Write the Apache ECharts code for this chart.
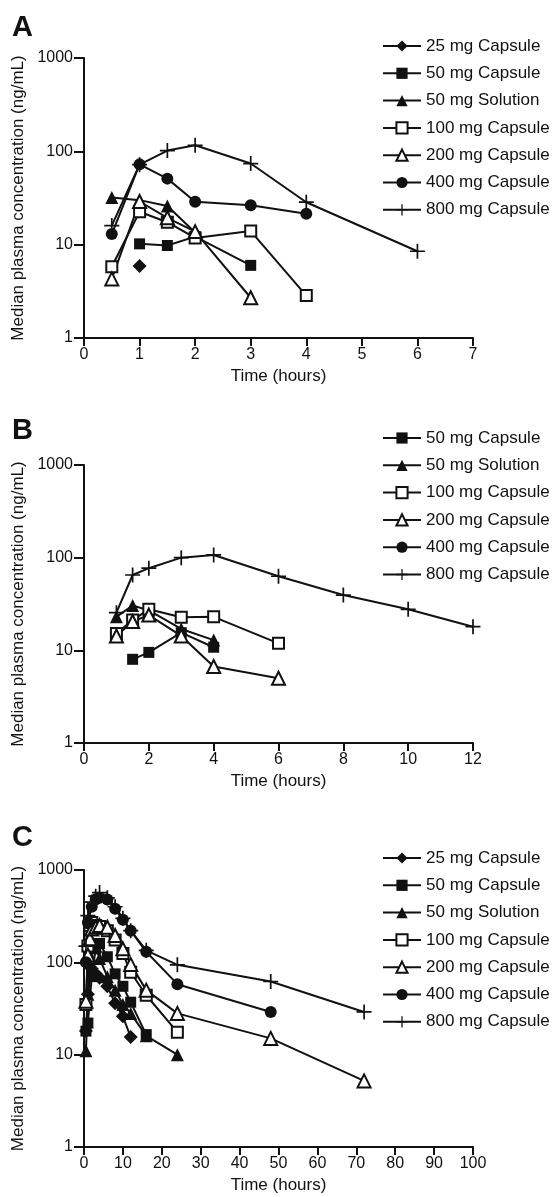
<!DOCTYPE html>
<html>
<head>
<meta charset="utf-8">
<script src="https://cdn.jsdelivr.net/npm/echarts@6/dist/echarts.min.js"></script>
<style>
  html, body { margin: 0; padding: 0; background: #fff; }
  #main { width: 559px; height: 1197px; }
</style>
</head>
<body>
<div id="main"></div>
<script>
// dose groups
var doses = ['25 mg Capsule', '50 mg Capsule', '50 mg Solution', '100 mg Capsule',
             '200 mg Capsule', '400 mg Capsule', '800 mg Capsule'];

// panel A, [time h, median conc ng/mL]
var a25mgCap = [[1, 5.9]];
var a50mgCap = [[1, 10.2], [1.5, 9.8], [2, 12.2], [3, 6]];
var a50mgSol = [[0.5, 32], [1, 30], [1.5, 26], [2, 13.5]];
var a100mgCap = [[0.5, 5.8], [1, 22.5], [1.5, 17.4], [2, 11.8], [3, 14], [4, 2.85]];
var a200mgCap = [[0.5, 4.3], [1, 29], [1.5, 19.4], [2, 13.8], [3, 2.7]];
var a400mgCap = [[0.5, 13], [1, 72.5], [1.5, 51], [2, 28.8], [3, 26.5], [4, 21.5]];
var a800mgCap = [[0.5, 16], [1, 72], [1.5, 102], [2, 116], [3, 74], [4, 28.5], [6, 8.5]];

// panel B
var b50mgCap = [[1.5, 8], [2, 9.5], [3, 15.5], [4, 10.8]];
var b50mgSol = [[1, 23], [1.5, 30.5], [2, 27], [3, 17], [4, 12.9]];
var b100mgCap = [[1, 15.2], [1.5, 21.2], [2, 27.7], [3, 22.7], [4, 23], [6, 11.9]];
var b200mgCap = [[1, 14.3], [1.5, 20.5], [2, 24], [3, 14.3], [4, 6.7], [6, 5]];
var b400mgCap = [];
var b800mgCap = [[1, 25.5], [1.5, 65], [2, 77], [3, 100], [4, 107], [6, 63], [8, 39.5], [10, 27.7], [12, 18]];

// panel C
var c25mgCap = [[0.5, 18], [1, 45], [2, 85], [3, 75], [4, 68], [6, 55], [8, 36], [10, 26], [12, 15.5]];
var c50mgCap = [[0.5, 18], [1, 22], [2, 70], [3, 140], [4, 160], [6, 115], [8, 75], [10, 55], [12, 37], [16, 16.5]];
var c50mgSol = [[0.5, 11], [1, 45], [1.5, 120], [2, 170], [3, 150], [4, 110], [6, 70], [8, 50], [10, 35], [12, 28], [16, 16], [24, 10]];
var c100mgCap = [[0.5, 35], [1, 150], [1.5, 250], [2, 270], [3, 250], [4, 245], [6, 220], [8, 175], [10, 125], [12, 78], [16, 44], [24, 17.5]];
var c200mgCap = [[0.5, 38], [1, 120], [1.5, 180], [2, 230], [3, 240], [4, 250], [6, 240], [8, 195], [10, 140], [12, 95], [16, 50], [24, 28], [48, 15], [72, 5.2]];
var c400mgCap = [[0.5, 100], [1, 270], [2, 400], [3, 480], [4, 500], [6, 480], [8, 380], [10, 290], [12, 220], [16, 130], [24, 58], [48, 29]];
var c800mgCap = [[0.5, 150], [1, 320], [2, 450], [3, 520], [4, 570], [6, 500], [8, 400], [10, 300], [12, 220], [16, 135], [24, 94], [48, 62], [72, 29]];

var xMax = [7, 12, 100];
var xStep = [1, 2, 10];

var INK = '#111';
var FONT = '"Liberation Sans", Arial, Helvetica, sans-serif';
var PLUS = 'path://M6.2,0h1.6v6.2h6.2v1.6h-6.2v6.2h-1.6v-6.2h-6.2v-1.6h6.2z';

var look = {
  '25 mg Capsule':  { symbol: 'diamond', size: 14, fill: INK },
  '50 mg Capsule':  { symbol: 'rect', size: 11, fill: INK },
  '50 mg Solution': { symbol: 'triangle', size: 13, fill: INK },
  '100 mg Capsule': { symbol: 'rect', size: 11, fill: '#fff' },
  '200 mg Capsule': { symbol: 'triangle', size: 13, fill: '#fff' },
  '400 mg Capsule': { symbol: 'circle', size: 12, fill: INK },
  '800 mg Capsule': { symbol: PLUS, size: 15, fill: INK }
};

function line(name, data, idx) {
  var s = look[name];
  return {
    name: name,
    type: 'line',
    xAxisIndex: idx,
    yAxisIndex: idx,
    data: data,
    symbol: s.symbol,
    symbolSize: s.size,
    showAllSymbol: true,
    animation: false,
    lineStyle: { color: INK, width: 2 },
    itemStyle: { color: s.fill, borderColor: INK, borderWidth: s.fill === INK ? 0 : 2 }
  };
}

var gridTops = [58, 465, 870];
var legendTops = [37.5, 429.5, 849.5];
var letters = ['A', 'B', 'C'];
var letterTops = [13, 416, 823];

var panels = [
  [['25 mg Capsule', a25mgCap], ['50 mg Capsule', a50mgCap], ['50 mg Solution', a50mgSol],
   ['100 mg Capsule', a100mgCap], ['200 mg Capsule', a200mgCap], ['400 mg Capsule', a400mgCap],
   ['800 mg Capsule', a800mgCap]],
  [['50 mg Capsule', b50mgCap], ['50 mg Solution', b50mgSol], ['100 mg Capsule', b100mgCap],
   ['200 mg Capsule', b200mgCap], ['400 mg Capsule', b400mgCap], ['800 mg Capsule', b800mgCap]],
  [['25 mg Capsule', c25mgCap], ['50 mg Capsule', c50mgCap], ['50 mg Solution', c50mgSol],
   ['100 mg Capsule', c100mgCap], ['200 mg Capsule', c200mgCap], ['400 mg Capsule', c400mgCap],
   ['800 mg Capsule', c800mgCap]]
];

var axisLine = { show: true, onZero: false, lineStyle: { color: INK, width: 2 } };
var xTick = { show: true, inside: false, length: 8, lineStyle: { color: INK, width: 2 } };
var yTick = { show: true, inside: false, length: 10, lineStyle: { color: INK, width: 2 } };

var grid = [], xAxis = [], yAxis = [], legend = [], title = [], series = [];

panels.forEach(function (p, i) {
  grid.push({ left: 84, width: 389, top: gridTops[i], height: 280 - (i === 2 ? 3 : i === 1 ? 2 : 0) });
  xAxis.push({
    type: 'value', gridIndex: i, min: 0, max: xMax[i], interval: xStep[i],
    name: 'Time (hours)', nameLocation: 'middle', nameGap: 30,
    nameTextStyle: { fontFamily: FONT, fontSize: 17, color: INK },
    axisLine: axisLine, axisTick: xTick, splitLine: { show: false },
    axisLabel: { fontFamily: FONT, fontSize: 16, color: INK, margin: 9 }
  });
  yAxis.push({
    type: 'log', logBase: 10, gridIndex: i, min: 1, max: 1000,
    name: 'Median plasma concentration (ng/mL)', nameLocation: 'middle', nameGap: 57,
    nameTextStyle: { fontFamily: FONT, fontSize: 17, color: INK },
    axisLine: axisLine, axisTick: yTick, splitLine: { show: false },
    minorTick: { show: false },
    axisLabel: {
      fontFamily: FONT, fontSize: 16, color: INK, margin: 11,
      formatter: function (v) { return String(Math.round(v)); }
    }
  });
  legend.push({
    orient: 'vertical', left: 382, top: legendTops[i], padding: 0,
    data: p.map(function (d) { return d[0]; }),
    itemWidth: 38, itemHeight: 14, itemGap: 10.3,
    selectedMode: false,
    textStyle: { fontFamily: FONT, fontSize: 17, lineHeight: 17, color: INK }
  });
  title.push({
    text: letters[i], left: 12, top: letterTops[i], padding: 0,
    textStyle: { fontFamily: FONT, fontSize: 29, fontWeight: 'bold', color: INK }
  });
  p.forEach(function (d) { series.push(line(d[0], d[1], i)); });
});

var chart = echarts.init(document.getElementById('main'), null, { renderer: 'canvas' });
chart.setOption({
  backgroundColor: '#fff',
  animation: false,
  title: title,
  grid: grid,
  xAxis: xAxis,
  yAxis: yAxis,
  legend: legend,
  series: series
});
</script>
</body>
</html>
